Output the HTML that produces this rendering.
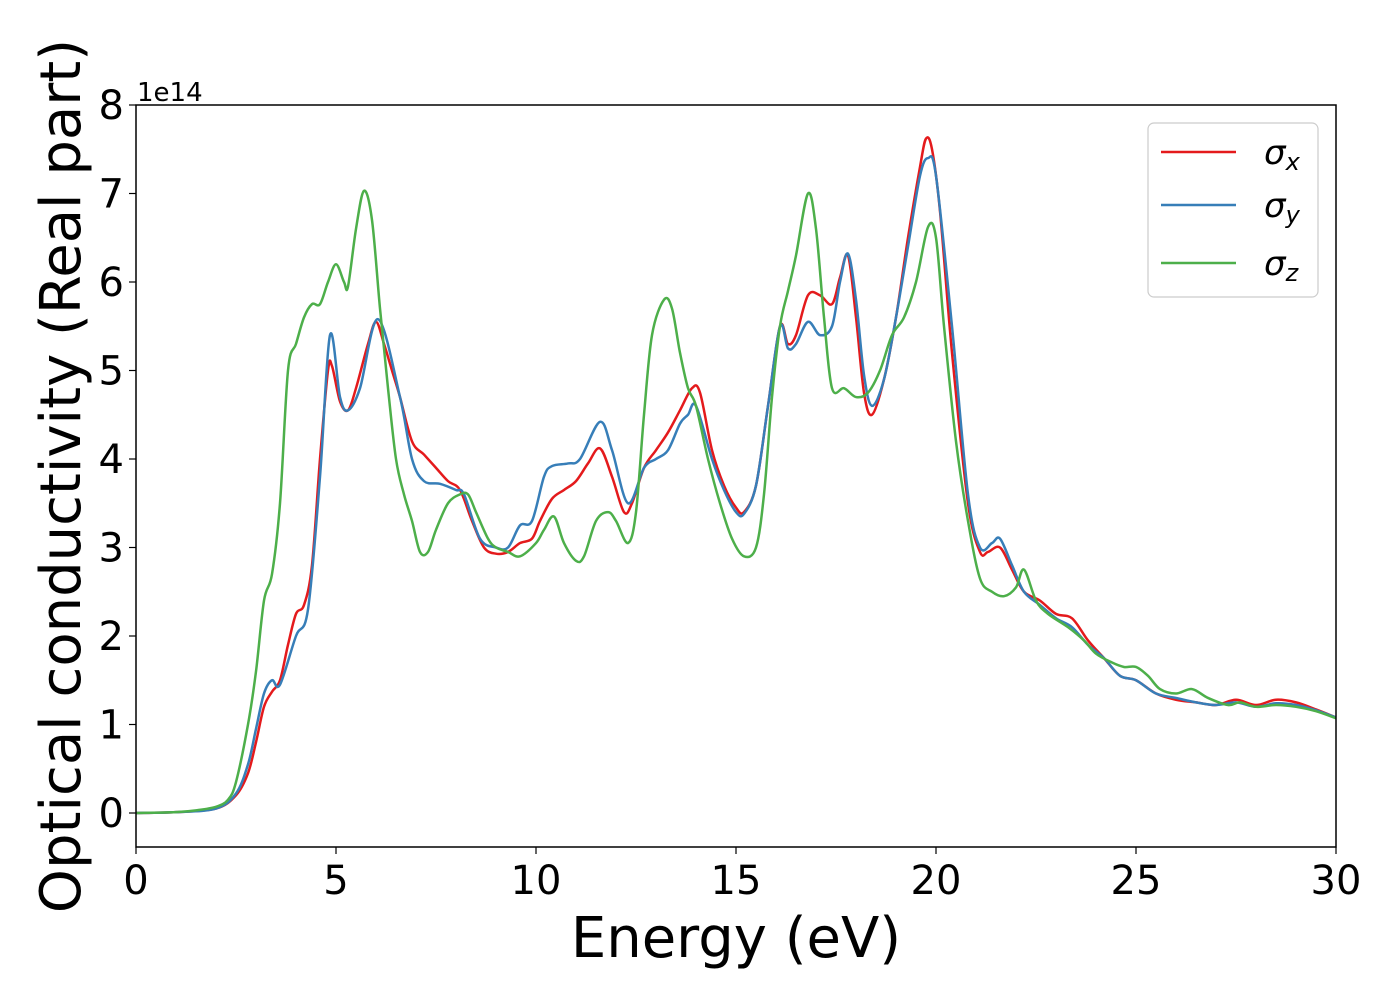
<!DOCTYPE html>
<html><head><meta charset="utf-8"><style>
body{margin:0;background:#fff}
svg text{font-family:"DejaVu Sans","Liberation Sans",sans-serif}
</style></head><body>
<svg id="chart" width="1400" height="1000">
<rect width="1400" height="1000" fill="#fff"/>
<g id="series"></g>
<rect x="136" y="105" width="1200" height="742" fill="none" stroke="#000" stroke-width="1.5"/>
<g id="axes"></g>
<text x="137" y="101" font-size="26">1e14</text>
<text x="736" y="957" font-size="56" text-anchor="middle">Energy (eV)</text>
<text transform="translate(80,476) rotate(-90)" font-size="56" text-anchor="middle">Optical conductivity (Real part)</text>
<g>
<rect x="1148" y="123" width="170" height="174" rx="6" fill="#fff" fill-opacity="0.8" stroke="#ccc" stroke-width="1.2"/>
<line x1="1161" y1="152" x2="1236" y2="152" stroke="#e41a1c" stroke-width="2.5"/>
<text x="1264" y="164" font-size="34" font-style="italic">σ<tspan font-size="24" dy="6">x</tspan></text>
<line x1="1161" y1="205" x2="1236" y2="205" stroke="#377eb8" stroke-width="2.5"/>
<text x="1264" y="217" font-size="34" font-style="italic">σ<tspan font-size="24" dy="6">y</tspan></text>
<line x1="1161" y1="263" x2="1236" y2="263" stroke="#4daf4a" stroke-width="2.5"/>
<text x="1264" y="275" font-size="34" font-style="italic">σ<tspan font-size="24" dy="6">z</tspan></text>
</g>
</svg>
<script>
const xTicks=[0,5,10,15,20,25,30];
const yTicks=[0,1,2,3,4,5,6,7,8];
const sigmaX=[[0,0],[1,0.01],[2,0.05],[2.5,0.2],[2.8,0.45],[3.0,0.8],[3.2,1.2],[3.4,1.37],[3.6,1.5],[3.8,1.9],[4.0,2.25],[4.2,2.35],[4.4,2.8],[4.6,4.0],[4.8,5.0],[4.9,5.05],[5.1,4.65],[5.3,4.55],[5.5,4.8],[5.8,5.3],[6.0,5.55],[6.2,5.3],[6.4,5.0],[6.6,4.7],[6.9,4.2],[7.2,4.05],[7.5,3.9],[7.8,3.75],[8.1,3.65],[8.4,3.3],[8.7,3.0],[9.0,2.93],[9.3,2.95],[9.6,3.05],[9.9,3.1],[10.1,3.3],[10.4,3.55],[10.7,3.65],[11.0,3.75],[11.3,3.95],[11.6,4.12],[11.9,3.8],[12.2,3.4],[12.4,3.5],[12.7,3.9],[13.0,4.1],[13.3,4.3],[13.6,4.55],[13.9,4.8],[14.1,4.75],[14.4,4.1],[14.7,3.7],[15.0,3.45],[15.2,3.4],[15.5,3.7],[15.8,4.6],[16.1,5.5],[16.3,5.3],[16.5,5.4],[16.8,5.85],[17.1,5.85],[17.4,5.75],[17.6,6.05],[17.8,6.3],[18.0,5.6],[18.2,4.75],[18.4,4.5],[18.7,4.9],[19.0,5.6],[19.3,6.5],[19.6,7.3],[19.75,7.62],[19.9,7.5],[20.1,6.8],[20.4,5.2],[20.8,3.5],[21.1,2.95],[21.3,2.95],[21.6,3.0],[21.9,2.75],[22.2,2.5],[22.6,2.4],[23.0,2.25],[23.4,2.2],[23.8,1.95],[24.2,1.75],[24.6,1.55],[25.0,1.5],[25.5,1.35],[26.0,1.28],[26.5,1.25],[27.0,1.22],[27.5,1.28],[28.0,1.22],[28.5,1.28],[29.0,1.25],[29.5,1.17],[30,1.08]];
const sigmaY=[[0,0],[1,0.01],[2,0.05],[2.5,0.22],[2.8,0.55],[3.0,0.95],[3.2,1.35],[3.4,1.5],[3.6,1.45],[4.0,2.0],[4.3,2.3],[4.6,3.8],[4.85,5.4],[5.1,4.7],[5.3,4.55],[5.6,4.8],[6.05,5.58],[6.6,4.7],[6.9,4.0],[7.2,3.75],[7.6,3.72],[8.0,3.65],[8.2,3.6],[8.6,3.1],[9.0,3.0],[9.3,3.0],[9.6,3.25],[9.9,3.3],[10.2,3.8],[10.4,3.92],[10.8,3.95],[11.1,4.0],[11.6,4.42],[11.9,4.1],[12.3,3.5],[12.7,3.9],[13.0,4.0],[13.3,4.1],[13.6,4.4],[13.8,4.5],[14.0,4.6],[14.4,4.0],[14.7,3.65],[15.0,3.4],[15.2,3.38],[15.5,3.7],[15.8,4.6],[16.1,5.5],[16.3,5.25],[16.5,5.3],[16.8,5.55],[17.1,5.4],[17.4,5.5],[17.6,6.0],[17.8,6.32],[18.0,5.8],[18.2,4.95],[18.4,4.6],[18.7,4.9],[19.0,5.6],[19.3,6.4],[19.6,7.2],[19.8,7.4],[20.0,7.2],[20.4,5.5],[20.8,3.6],[21.1,3.0],[21.4,3.05],[21.6,3.1],[21.9,2.8],[22.2,2.5],[22.6,2.35],[23.0,2.2],[23.4,2.1],[23.8,1.9],[24.2,1.75],[24.6,1.55],[25.0,1.5],[25.5,1.35],[26.0,1.3],[26.5,1.25],[27.0,1.22],[27.5,1.25],[28.0,1.2],[28.5,1.24],[29.0,1.22],[29.5,1.16],[30,1.08]];
const sigmaZ=[[0,0],[1,0.01],[1.5,0.03],[2,0.07],[2.3,0.15],[2.5,0.35],[2.8,1.0],[3.0,1.6],[3.2,2.4],[3.4,2.7],[3.6,3.5],[3.8,5.0],[4.0,5.3],[4.2,5.6],[4.4,5.75],[4.6,5.75],[4.8,6.0],[5.0,6.2],[5.2,6.0],[5.3,5.95],[5.5,6.6],[5.7,7.03],[5.9,6.7],[6.1,5.7],[6.3,4.8],[6.5,4.0],[6.7,3.6],[6.9,3.3],[7.1,2.95],[7.3,2.95],[7.5,3.2],[7.8,3.5],[8.1,3.6],[8.3,3.6],[8.5,3.4],[8.8,3.1],[9.0,3.0],[9.3,2.95],[9.6,2.9],[10.0,3.05],[10.2,3.2],[10.45,3.35],[10.7,3.05],[11.0,2.85],[11.2,2.9],[11.5,3.3],[11.8,3.4],[12.0,3.3],[12.3,3.05],[12.5,3.4],[12.7,4.5],[12.9,5.4],[13.2,5.8],[13.4,5.7],[13.6,5.2],[13.8,4.8],[14.0,4.6],[14.3,4.0],[14.6,3.5],[14.9,3.1],[15.2,2.9],[15.5,3.0],[15.7,3.6],[15.9,4.7],[16.1,5.5],[16.3,5.9],[16.5,6.3],[16.8,7.0],[17.0,6.6],[17.2,5.6],[17.4,4.8],[17.7,4.8],[18.0,4.7],[18.3,4.75],[18.6,5.0],[18.9,5.4],[19.2,5.6],[19.5,6.0],[19.8,6.62],[20.0,6.5],[20.2,5.5],[20.5,4.2],[20.8,3.3],[21.1,2.65],[21.4,2.5],[21.7,2.45],[22.0,2.55],[22.2,2.75],[22.5,2.4],[22.8,2.25],[23.3,2.1],[23.7,1.95],[24.0,1.8],[24.4,1.7],[24.7,1.65],[25.0,1.65],[25.3,1.55],[25.6,1.4],[26.0,1.35],[26.4,1.4],[26.8,1.3],[27.3,1.22],[27.6,1.25],[28.0,1.2],[28.5,1.22],[29.0,1.2],[29.5,1.15],[30,1.07]];
const NS='http://www.w3.org/2000/svg';
const sx=v=>136+v*40, sy=v=>813-v*88.5;
const axes=document.getElementById('axes');
xTicks.forEach(t=>{
  const l=document.createElementNS(NS,'line');
  l.setAttribute('x1',sx(t));l.setAttribute('x2',sx(t));l.setAttribute('y1',847);l.setAttribute('y2',854);l.setAttribute('stroke','#000');l.setAttribute('stroke-width','1.2');
  
  
  axes.appendChild(l);
  const tx=document.createElementNS(NS,'text');
  tx.setAttribute('x',sx(t));tx.setAttribute('y',894);tx.setAttribute('font-size','40');tx.setAttribute('text-anchor','middle');tx.textContent=t;
  
  
  axes.appendChild(tx);
});
yTicks.forEach(t=>{
  const l=document.createElementNS(NS,'line');
  l.setAttribute('x1',129);l.setAttribute('x2',136);l.setAttribute('y1',sy(t));l.setAttribute('y2',sy(t));l.setAttribute('stroke','#000');l.setAttribute('stroke-width','1.2');
  
  
  axes.appendChild(l);
  const tx=document.createElementNS(NS,'text');
  tx.setAttribute('x',124);tx.setAttribute('y',sy(t)+14);tx.setAttribute('font-size','40');tx.setAttribute('text-anchor','end');tx.textContent=t;
  
  
  axes.appendChild(tx);
});
function pathFor(d){
  const p=d.map(a=>[sx(a[0]),sy(a[1])]);
  let s='M'+p[0][0]+','+p[0][1];
  for(let i=0;i<p.length-1;i++){
    const p0=p[Math.max(0,i-1)],p1=p[i],p2=p[i+1],p3=p[Math.min(p.length-1,i+2)];
    const c1x=p1[0]+(p2[0]-p0[0])/6,c1y=p1[1]+(p2[1]-p0[1])/6;
    const c2x=p2[0]-(p3[0]-p1[0])/6,c2y=p2[1]-(p3[1]-p1[1])/6;
    s+=' C'+c1x+','+c1y+' '+c2x+','+c2y+' '+p2[0]+','+p2[1];
  }
  return s;
}
const g=document.getElementById('series');
[[sigmaX,'#e41a1c','sigma-x-line'],[sigmaY,'#377eb8','sigma-y-line'],[sigmaZ,'#4daf4a','sigma-z-line']].forEach(s=>{
  const p=document.createElementNS(NS,'path');
  p.setAttribute('d',pathFor(s[0]));p.setAttribute('fill','none');p.setAttribute('stroke',s[1]);p.setAttribute('stroke-width','2.5');
  
  
  g.appendChild(p);
});
</script>
</body></html>
